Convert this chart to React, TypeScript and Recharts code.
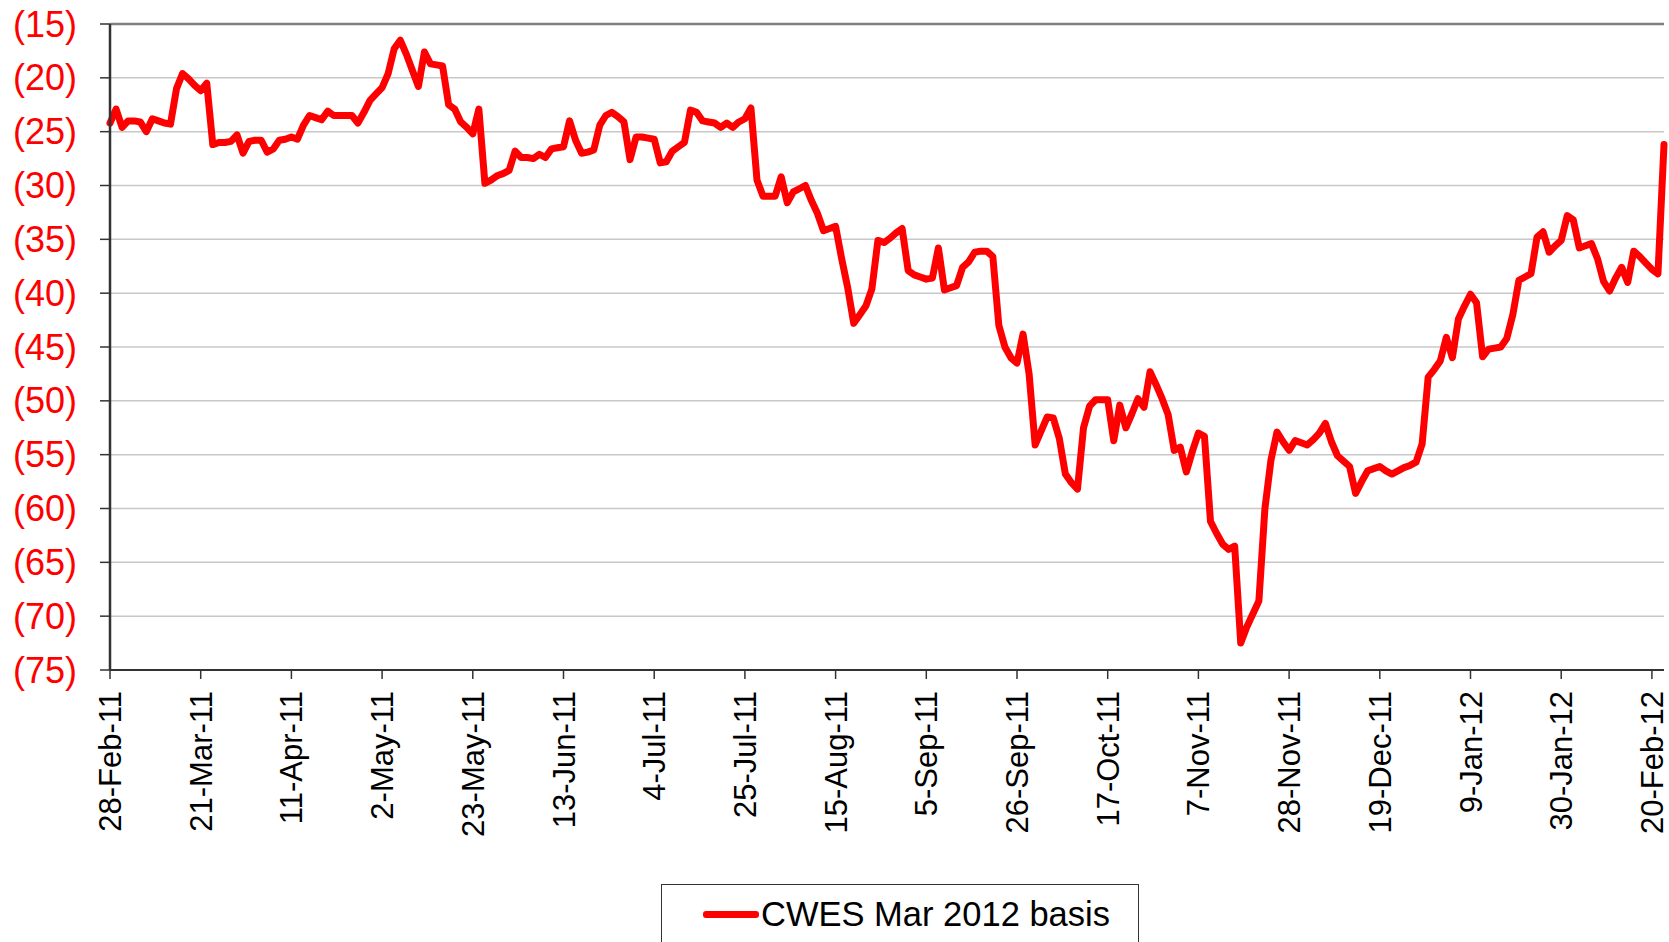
import { LineChart, Line, XAxis, YAxis, CartesianGrid, ReferenceLine } from 'recharts';

// CWES Mar 2012 basis, one value per business day from 28-Feb-11
const BASIS = [
  -24.2, -22.9, -24.6, -24.0, -24.0, -24.1, -25.0, -23.8, -24.0, -24.2,
  -24.3, -21.0, -19.6, -20.1, -20.7, -21.2, -20.5, -26.2, -26.0, -26.0,
  -25.9, -25.3, -27.0, -25.9, -25.8, -25.8, -26.9, -26.6, -25.8, -25.7,
  -25.5, -25.7, -24.4, -23.5, -23.7, -23.9, -23.1, -23.5, -23.5, -23.5,
  -23.5, -24.2, -23.2, -22.1, -21.5, -20.9, -19.6, -17.3, -16.5, -17.8,
  -19.3, -20.8, -17.6, -18.7, -18.8, -18.9, -22.5, -22.9, -24.1, -24.6,
  -25.2, -22.9, -29.8, -29.5, -29.1, -28.9, -28.6, -26.8, -27.4, -27.4,
  -27.5, -27.1, -27.4, -26.6, -26.5, -26.4, -24.0, -25.8, -27.0, -26.9,
  -26.7, -24.4, -23.5, -23.2, -23.6, -24.1, -27.6, -25.5, -25.5, -25.6,
  -25.7, -27.9, -27.8, -26.8, -26.4, -26.0, -23.0, -23.2, -24.0, -24.1,
  -24.2, -24.6, -24.2, -24.6, -24.1, -23.8, -22.8, -29.5, -31.0, -31.0,
  -31.0, -29.2, -31.6, -30.6, -30.3, -30.0, -31.4, -32.6, -34.2, -34.0,
  -33.8, -36.8, -39.5, -42.8, -42.0, -41.2, -39.6, -35.1, -35.3, -34.9,
  -34.4, -34.0, -37.9, -38.3, -38.5, -38.7, -38.6, -35.8, -39.7, -39.5,
  -39.3, -37.6, -37.1, -36.2, -36.1, -36.1, -36.6, -43.0, -45.0, -46.0,
  -46.5, -43.8, -47.5, -54.1, -52.8, -51.5, -51.6, -53.5, -56.8, -57.6,
  -58.2, -52.5, -50.5, -49.9, -49.9, -49.9, -53.7, -50.4, -52.5, -51.2,
  -49.8, -50.6, -47.3, -48.5, -49.8, -51.3, -54.6, -54.3, -56.6, -54.7,
  -53.0, -53.3, -61.2, -62.3, -63.3, -63.8, -63.5, -72.5, -71.0, -69.8,
  -68.6, -60.0, -55.5, -52.9, -53.8, -54.6, -53.7, -53.9, -54.1, -53.6,
  -53.0, -52.1, -53.8, -55.1, -55.6, -56.1, -58.6, -57.5, -56.5, -56.3,
  -56.1, -56.5, -56.8, -56.5, -56.2, -56.0, -55.7, -54.0, -47.8, -47.1,
  -46.3, -44.1, -46.0, -42.4, -41.2, -40.1, -40.9, -45.9, -45.2, -45.1,
  -45.0, -44.2, -42.0, -38.8, -38.5, -38.2, -34.8, -34.3, -36.2, -35.6,
  -35.1, -32.8, -33.2, -35.8, -35.6, -35.4, -36.8, -38.9, -39.8, -38.6,
  -37.6, -39.0, -36.1, -36.6, -37.2, -37.8, -38.2, -26.2,
];

const Y_TICKS = [-75, -70, -65, -60, -55, -50, -45, -40, -35, -30, -25, -20, -15];
const MONTHS = ['Jan', 'Feb', 'Mar', 'Apr', 'May', 'Jun', 'Jul', 'Aug', 'Sep', 'Oct', 'Nov', 'Dec'];
const SERIES_NAME = 'CWES Mar 2012 basis';

// business-day labels like 28-Feb-11
function businessDays(count: number) {
  const out: string[] = [];
  const d = new Date(Date.UTC(2011, 1, 28));
  while (out.length < count) {
    const wd = d.getUTCDay();
    if (wd !== 0 && wd !== 6) {
      out.push(`${d.getUTCDate()}-${MONTHS[d.getUTCMonth()]}-${String(d.getUTCFullYear()).slice(2)}`);
    }
    d.setUTCDate(d.getUTCDate() + 1);
  }
  return out;
}

const dates = businessDays(BASIS.length);
const data = BASIS.map((v, i) => ({ date: dates[i], basis: v }));

const FONT = '"Liberation Sans", Arial, Helvetica, sans-serif';

const DateTick = ({ x, y, payload }: any) => (
  <text
    x={x + 11}
    y={y + 10}
    transform={`rotate(-90, ${x + 11}, ${y + 10})`}
    textAnchor="end"
    fontSize={31}
    fontFamily={FONT}
    fill="#000"
  >
    {payload.value}
  </text>
);

const ValueTick = ({ y, payload }: any) => (
  <text x={77} y={y + 12.6} textAnchor="end" fontSize={36} fontFamily={FONT} fill="#ff0000">
    {`(${Math.abs(payload.value)})`}
  </text>
);

export default function App() {
  return (
    <div style={{ position: 'absolute', left: 0, top: 0, width: 1669, height: 942, background: '#fff', overflow: 'hidden' }}>
      <LineChart width={1669} height={942} data={data} margin={{ top: 24, right: 5, bottom: 112, left: 10 }}>
        <CartesianGrid vertical={false} stroke="#c8c8c8" strokeWidth={1.5} />
        <ReferenceLine y={-15} stroke="#808080" strokeWidth={2.5} />
        <XAxis
          dataKey="date"
          interval={14}
          height={160}
          tick={<DateTick />}
          tickSize={9}
          axisLine={{ stroke: '#333', strokeWidth: 2 }}
          tickLine={{ stroke: '#333', strokeWidth: 1.5 }}
        />
        <YAxis
          domain={[-75, -15]}
          ticks={Y_TICKS}
          width={100}
          allowDataOverflow
          tick={<ValueTick />}
          tickSize={10}
          axisLine={{ stroke: '#333', strokeWidth: 2.5 }}
          tickLine={{ stroke: '#333', strokeWidth: 1.5 }}
        />
        <Line
          type="linear"
          dataKey="basis"
          name={SERIES_NAME}
          stroke="#ff0000"
          strokeWidth={7}
          strokeLinejoin="round"
          strokeLinecap="round"
          dot={false}
          isAnimationActive={false}
        />
      </LineChart>

      {/* legend box at the bottom, cut by the page edge like the original */}
      <div
        style={{
          position: 'absolute',
          left: 661,
          top: 884,
          width: 476,
          height: 80,
          border: '1.5px solid #333',
          fontFamily: FONT,
        }}
      >
        <div style={{ position: 'absolute', left: 41, top: 26, width: 56, height: 7, background: '#ff0000', borderRadius: 3 }} />
        <div style={{ position: 'absolute', left: 99, top: 10, fontSize: 34.5, lineHeight: '38px', color: '#000', whiteSpace: 'nowrap' }}>
          {SERIES_NAME}
        </div>
      </div>
    </div>
  );
}
